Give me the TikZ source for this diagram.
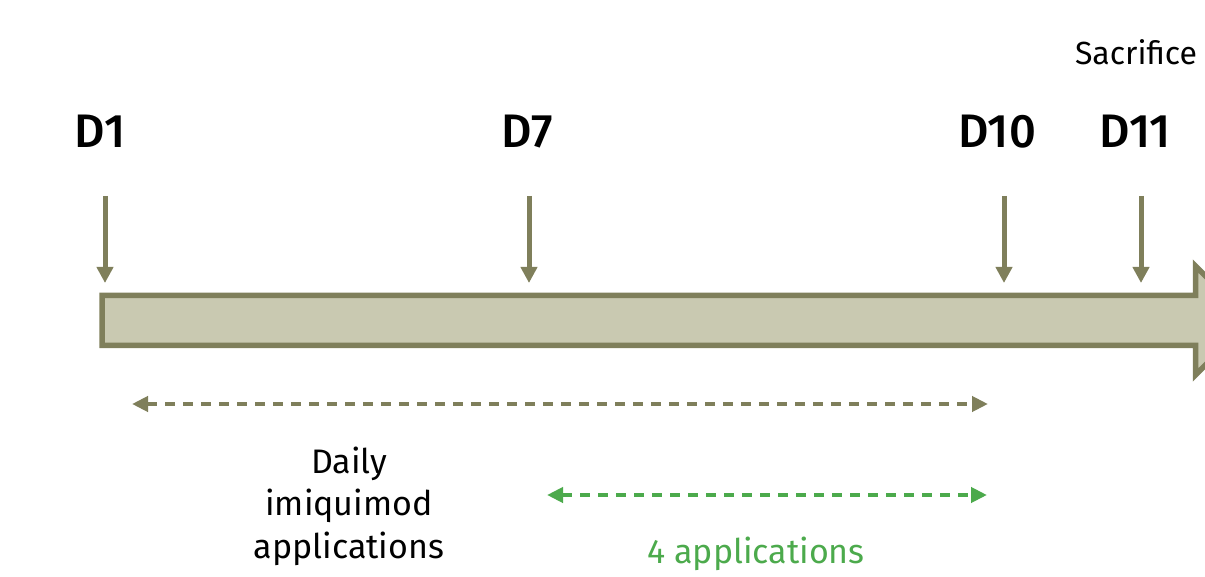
\documentclass[tikz,border=0pt]{standalone}
\usepackage{fontspec}
\setmainfont{Fira Sans}[BoldFont={Fira Sans Medium}]
\usetikzlibrary{arrows.meta}
\definecolor{olive}{HTML}{7F7F5B}
\definecolor{olivefill}{HTML}{C9C9B1}
\definecolor{appgreen}{HTML}{4CAA4C}
\begin{document}
\begin{tikzpicture}[x=1pt,y=-1pt,
  daylabel/.style={font=\fontsize{47}{47}\selectfont\bfseries, anchor=base, inner sep=0pt},
  toplabel/.style={font=\fontsize{32}{32}\selectfont, anchor=base, inner sep=0pt},
  bodytext/.style={font=\fontsize{34}{42.5}\selectfont, anchor=base, align=center, inner sep=0pt},
  vtick/.style={draw=olive, line width=5pt, -{Triangle[width=16pt,length=16pt]}, olive},
  olivespan/.style={draw=olive, line width=4.5pt, dash pattern=on 10pt off 8pt,
    {Triangle[width=15pt,length=16pt]}-{Triangle[width=15pt,length=16pt]}, olive},
  greenspan/.style={draw=appgreen, line width=4.5pt, dash pattern=on 10pt off 8pt,
    {Triangle[width=15pt,length=16pt]}-{Triangle[width=15pt,length=16pt]}, appgreen},
  timeline/.style={draw=olive, fill=olivefill, line width=5.5pt, line join=miter}]
\useasboundingbox (0,0) rectangle (1205,577);
\clip (0,0) rectangle (1205,577);

% main timeline arrow
\draw[timeline] (102,295.5) -- (1195.5,295.5) -- (1195.5,266) -- (1249.5,320.5)
  -- (1195.5,375) -- (1195.5,345.5) -- (102,345.5) -- cycle;

% labels
\node[toplabel] (sac) at (1136,65) {Sacrifice};
\node[daylabel] (d1) at (100,148) {D1};
\node[daylabel] (d7) at (527,148) {D7};
\node[daylabel] (d10) at (997,148) {D10};
\node[daylabel] (d11) at (1135,148) {D11};

% tick arrows
\coordinate (t1a) at (105,196);  \coordinate (t1b) at (105,283);
\coordinate (t7a) at (529,196);  \coordinate (t7b) at (529,283);
\coordinate (t10a) at (1004,196); \coordinate (t10b) at (1004,283);
\coordinate (t11a) at (1141,196); \coordinate (t11b) at (1141,283);
\draw[vtick] (t1a) -- (t1b);
\draw[vtick] (t7a) -- (t7b);
\draw[vtick] (t10a) -- (t10b);
\draw[vtick] (t11a) -- (t11b);

% spans
\coordinate (s1a) at (132,404); \coordinate (s1b) at (988,404);
\coordinate (s2a) at (547,495); \coordinate (s2b) at (987,495);
\draw[olivespan] (s1a) -- (s1b);
\draw[greenspan] (s2a) -- (s2b);

\node[bodytext] (daily) at (349,558) {Daily\\imiquimod\\applications};
\node[bodytext, text=appgreen] (four) at (756,563) {4 applications};
\end{tikzpicture}
\end{document}
